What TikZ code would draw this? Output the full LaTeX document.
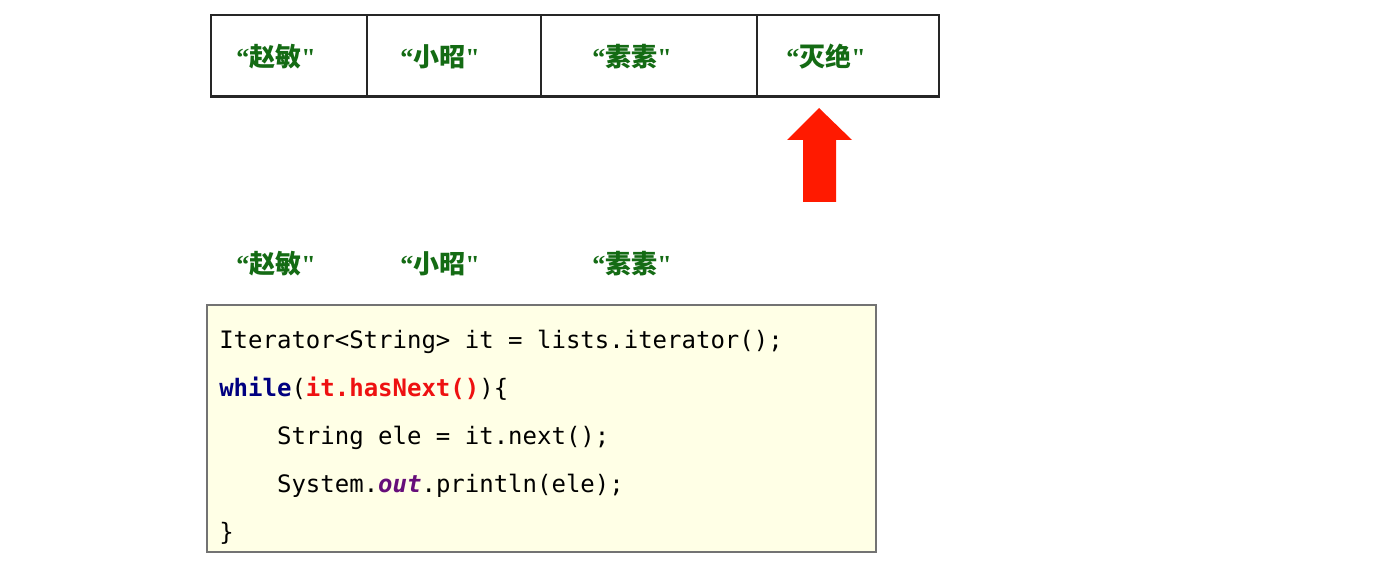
\documentclass[tikz,border=0pt]{standalone}
\usepackage{fontspec}
\newfontfamily\cjk{Noto Sans CJK SC}
\newfontfamily\qfont{Liberation Serif}
\setmonofont{DejaVu Sans Mono}
\definecolor{namegreen}{HTML}{146B14}
\definecolor{codebg}{HTML}{FFFFE6}
\definecolor{kwblue}{HTML}{000080}
\definecolor{hlred}{HTML}{EE1111}
\definecolor{purp}{HTML}{660E7A}
\definecolor{arrowred}{HTML}{FF1A00}
\tikzset{
  cell/.style={draw=black!85, line width=2.2pt},
  namelbl/.style={text=namegreen, font=\cjk\bfseries\fontsize{19.5}{22}\selectfont, inner sep=0pt},
  code/.style={anchor=base west, font=\ttfamily\fontsize{18}{20}\selectfont, inner sep=0pt},
}
\newcommand{\nm}[1]{{\qfont\bfseries\char"201C}#1{\qfont\bfseries"}}
\begin{document}
\begin{tikzpicture}[x=0.75pt,y=-0.75pt]
\useasboundingbox (0,0) rectangle (1375,563);
\fill[white] (0,0) rectangle (1375,563);
% table
\draw[cell] (211,15) rectangle (939,96);
\draw[cell] (210,97) -- (940,97);
\draw[cell] (367,15) -- (367,96);
\draw[cell] (541,15) -- (541,96);
\draw[cell] (757,15) -- (757,96);
\node[namelbl] (a1) at (276,57) {\nm{赵敏}};
\node[namelbl] (a2) at (440,57) {\nm{小昭}};
\node[namelbl] (a3) at (632,57) {\nm{素素}};
\node[namelbl] (a4) at (826,57) {\nm{灭绝}};
% arrow
\fill[arrowred] (803,202) -- (836,202) -- (836,140) -- (852,140) -- (819,108) -- (787,140) -- (803,140) -- cycle;
% lower labels
\node[namelbl] (b1) at (276,264) {\nm{赵敏}};
\node[namelbl] (b2) at (440,264) {\nm{小昭}};
\node[namelbl] (b3) at (632,264) {\nm{素素}};
% code box
\draw[draw=black!55, fill=codebg, line width=0.8pt] (207,305) rectangle (876,552);
\node[code] (c1) at (219,348) {Iterator<String> it = lists.iterator();};
\node[code] (c2) at (219,396) {\textcolor{kwblue}{\bfseries while}(\textcolor{hlred}{\bfseries it.hasNext()})\{};
\node[code] (c3) at (219,444) {\phantom{xxxx}String ele = it.next();};
\node[code] (c4) at (219,492) {\phantom{xxxx}System.\textcolor{purp}{\bfseries\itshape out}.println(ele);};
\node[code] (c5) at (219,540) {\}};
\end{tikzpicture}
\end{document}
